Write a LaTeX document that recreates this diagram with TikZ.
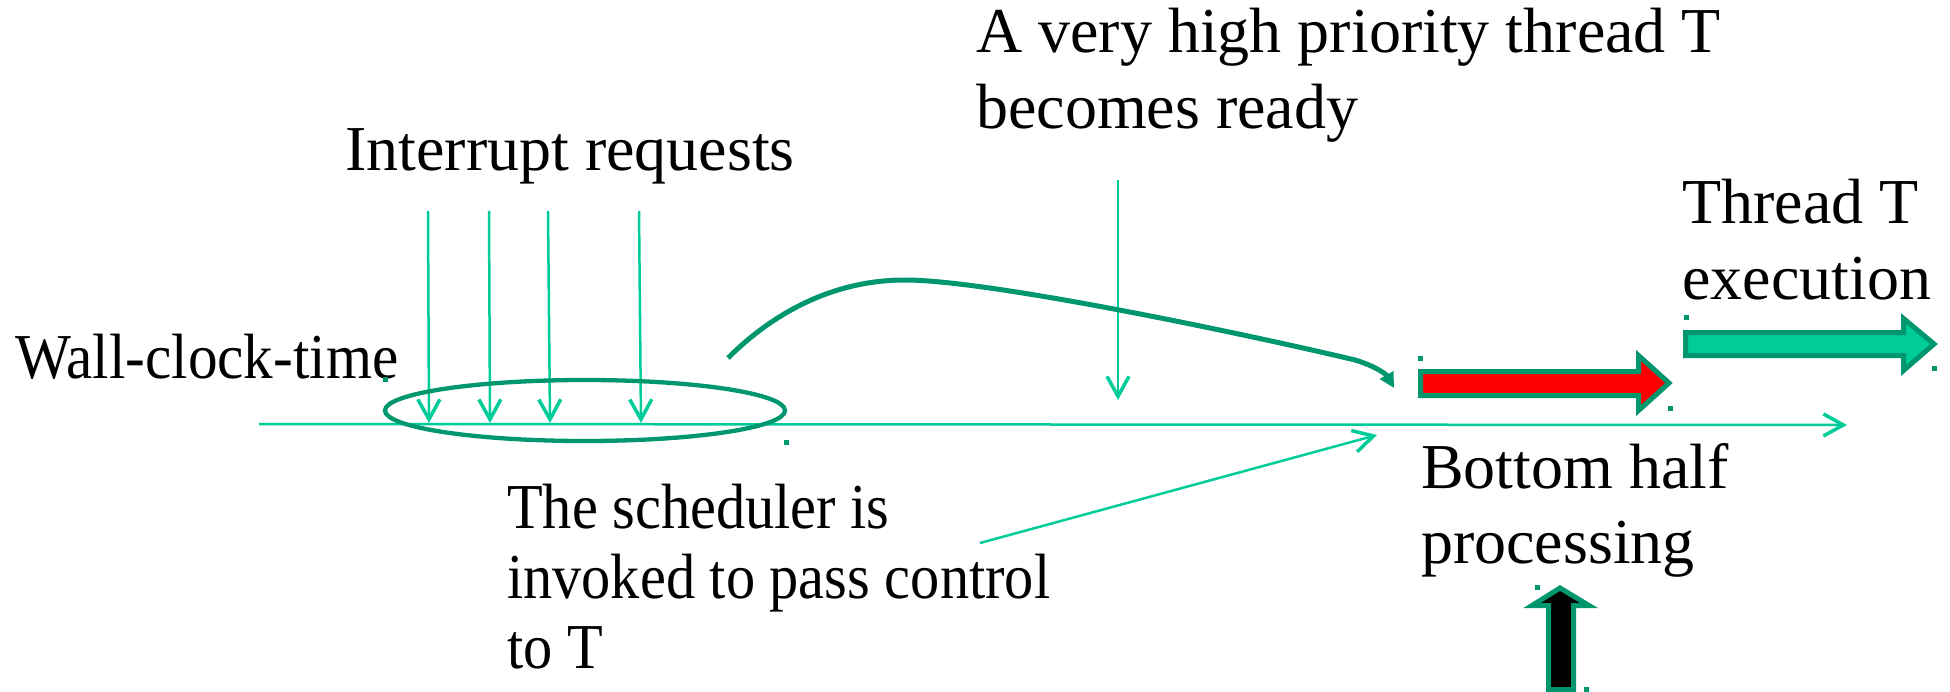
\documentclass[tikz,border=0pt]{standalone}
\usepackage{fontspec}
\setmainfont{Liberation Serif}
\newfontfamily\narrowA[FakeStretch=0.925]{Liberation Serif}
\newfontfamily\narrowB[FakeStretch=0.912]{Liberation Serif}
\usetikzlibrary{arrows.meta}
\definecolor{lightg}{HTML}{00CC99}
\definecolor{darkg}{HTML}{00966E}
\newcommand\dotsq[1]{\fill[darkg] (#1) ++(-2.5,-2.5) rectangle ++(5,5);}
\begin{document}
\begin{tikzpicture}[x=1pt,y=-1pt,
  txt/.style={font=\fontsize{64}{#1}\selectfont, inner sep=0pt, anchor=base west, align=left},
  txt/.default=75,
  thinarrow/.style={draw=lightg, line width=2.5pt, -{Straight Barb[length=20pt,width=22pt,line width=3.5pt]}},
  bold/.style={draw=darkg, line width=5pt},
  blockarrow/.style={draw=darkg, line width=5pt, line join=miter}
]
\useasboundingbox (0,0) rectangle (1950,692);

% texts (anchor = baseline of last line)
\node[txt] (intr) at (345,171) {Interrupt requests};
\node[txt=76] (prio) at (976,129) {A very high priority thread T\\becomes ready};
\node[txt=76] (thrd) at (1682,300) {Thread T\\execution};
\node[txt, font=\narrowA\fontsize{64}{75}\selectfont] (wall) at (15,378) {Wall-clock-time};
\node[txt, font=\narrowB\fontsize{64}{70}\selectfont] (sched) at (507,668) {The scheduler is\\invoked to pass control\\to T};
\node[txt=75] (bott) at (1421,563) {Bottom half\\processing};

% timeline
\coordinate (tl0) at (259,424);
\coordinate (tl1) at (1847,425);
\draw[thinarrow] (tl0) -- (tl1);

% interrupt arrows
\foreach \x/\y in {428/429,489/490,548/550,639/641}{
  \coordinate (a) at (\x,211);
  \coordinate (b) at (\y,423);
  \draw[thinarrow] (a) -- (b);
}
% very high priority arrow
\coordinate (p0) at (1118,180);
\coordinate (p1) at (1118,400);
\draw[thinarrow] (p0) -- (p1);
% scheduler arrow
\coordinate (s0) at (980,543);
\coordinate (s1) at (1377,435);
\draw[thinarrow] (s0) -- (s1);

% ellipse
\draw[darkg, line width=4.3pt] (585,410.5) ellipse [x radius=200, y radius=30.5];

% curve
\coordinate (c0) at (728,358);
\coordinate (c1) at (1394,388);
\draw[bold, -{Triangle[length=15pt,width=15pt]}] (c0) .. controls (770,316) and (830,280) .. (905,280)
  .. controls (990,280) and (1250,335) .. (1355,360)
  .. controls (1375,366) and (1386,374) .. (c1);

% red arrow
\filldraw[blockarrow, fill=red] (1420.5,371.5) -- (1638.5,371.5) -- (1638.5,355.5) -- (1669,383)
  -- (1638.5,410.5) -- (1638.5,395.5) -- (1420.5,395.5) -- cycle;
% teal arrow
\filldraw[blockarrow, fill=lightg] (1685.5,332.5) -- (1903.5,332.5) -- (1903.5,318.5) -- (1934,344)
  -- (1903.5,370.5) -- (1903.5,355.5) -- (1685.5,355.5) -- cycle;
% black arrow
\filldraw[blockarrow, fill=black] (1548.5,689.5) -- (1548.5,605.5) -- (1532,605.5) -- (1560,588)
  -- (1589,605.5) -- (1573.5,605.5) -- (1573.5,689.5) -- cycle;

% handle dots
\dotsq{385,379}
\dotsq{786,442}
\dotsq{1420,358}
\dotsq{1670,408}
\dotsq{1686,318}
\dotsq{1934,368}
\dotsq{1537,587}
\dotsq{1586,689}
\end{tikzpicture}
\end{document}
